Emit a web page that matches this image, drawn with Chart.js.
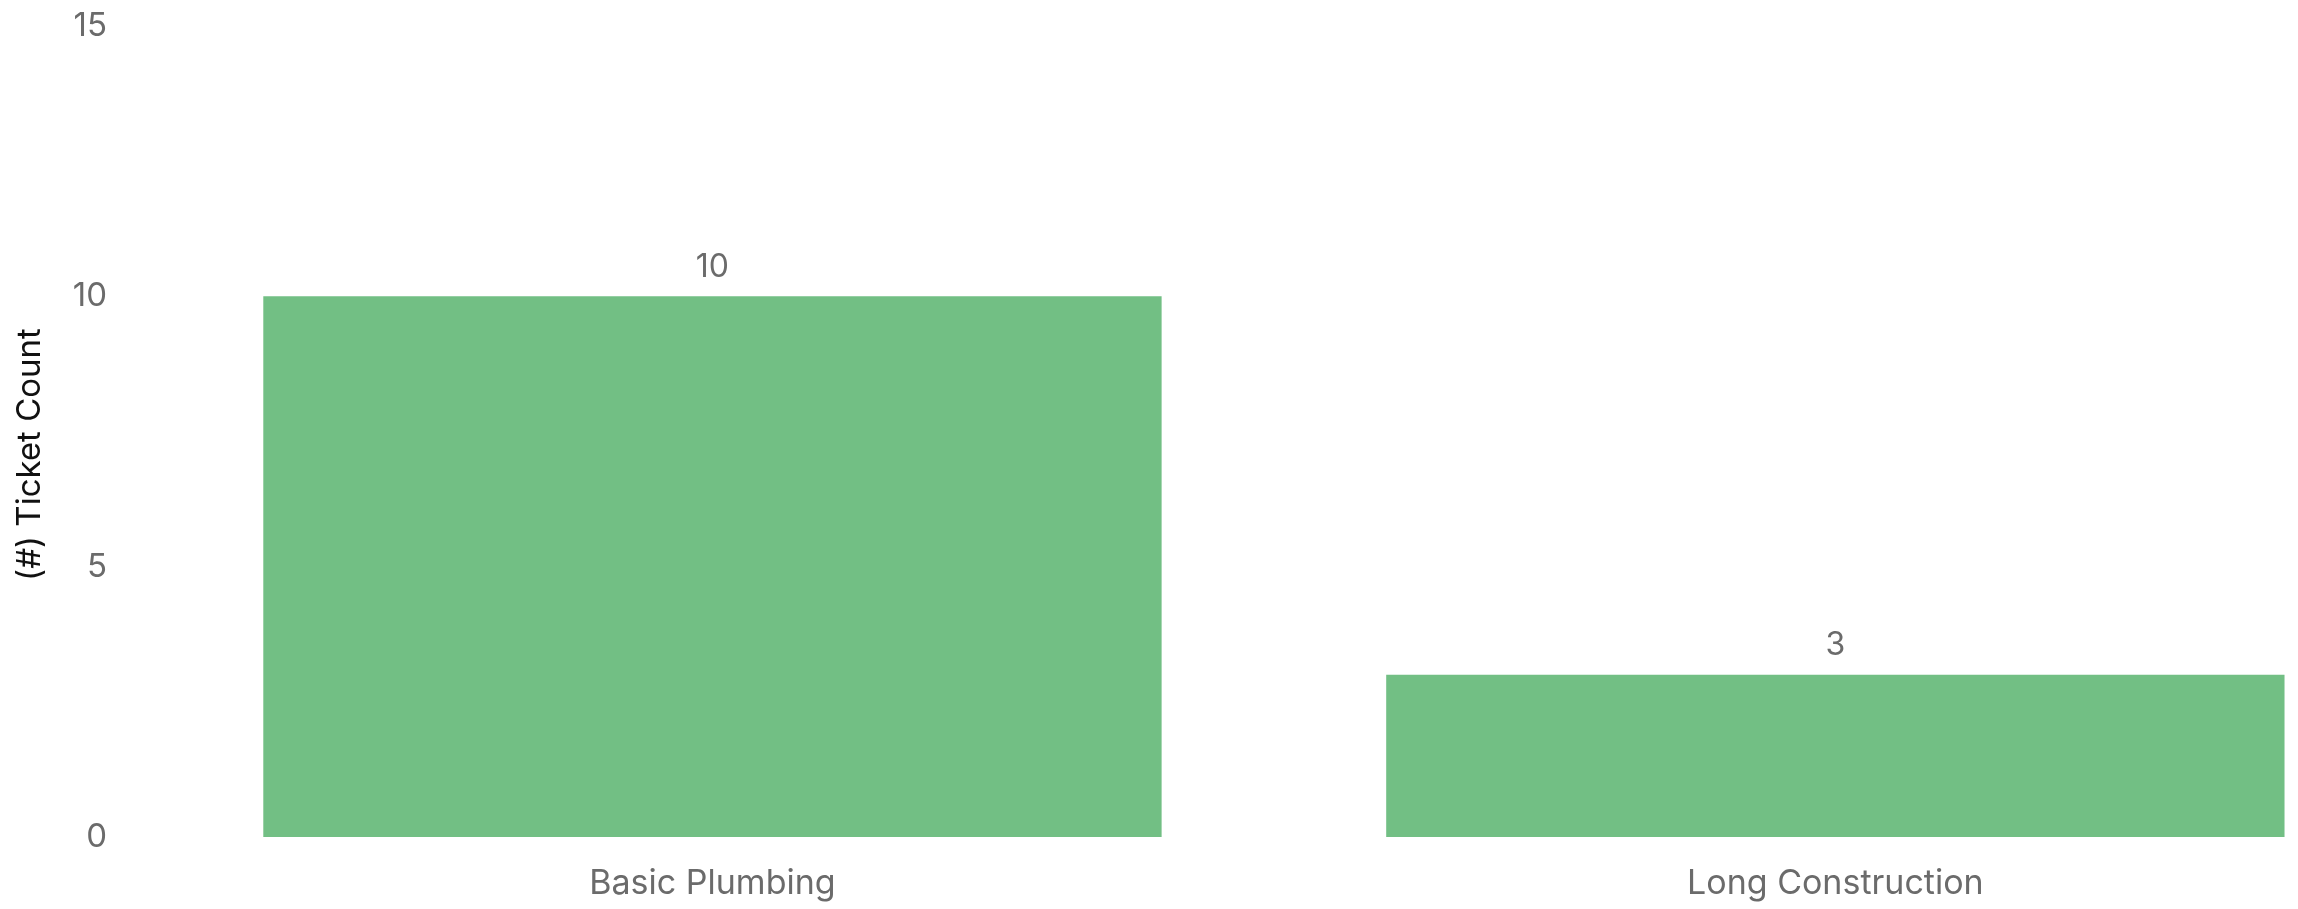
<!DOCTYPE html>
<html>
<head>
<meta charset="utf-8">
<script src="https://cdn.jsdelivr.net/npm/chart.js@4"></script>
<style>
  html, body { margin: 0; padding: 0; background: #fff; }
  #wrap { width: 2298px; height: 909px; position: relative; }
</style>
</head>
<body>
<div id="wrap"><canvas id="ticketChart"></canvas></div>
<script>
(() => {
  const CATEGORIES = ["Basic Plumbing", "Long Construction"];
  const TICKET_COUNTS = [10, 3];
  const Y_TICKS = [0, 5, 10, 15];
  const Y_TITLE = "(#) Ticket Count";

  const BAR_COLOR = "#72bf84";
  const TICK_COLOR = "#6b6b6b";
  const FONT = "Inter, 'Noto Sans', sans-serif";

  /* ---------- PLUGINS ---------- */

  // value labels above each bar
  const valueLabels = {
    id: "valueLabels",
    afterDatasetsDraw(chart) {
      const { ctx } = chart;
      const meta = chart.getDatasetMeta(0);
      ctx.save();
      ctx.font = `32px ${FONT}`;
      ctx.fillStyle = TICK_COLOR;
      ctx.textAlign = "center";
      ctx.textBaseline = "middle";
      meta.data.forEach((bar, i) => {
        ctx.fillText(String(TICKET_COUNTS[i]), bar.x, bar.y - 29);
      });
      ctx.restore();
    }
  };

  // y title, centred on the whole canvas height
  const yTitle = {
    id: "yTitle",
    afterDraw(chart) {
      const { ctx } = chart;
      ctx.save();
      ctx.translate(30, chart.height / 2);
      ctx.rotate(-Math.PI / 2);
      ctx.font = `33px ${FONT}`;
      ctx.fillStyle = "#111";
      ctx.textAlign = "center";
      ctx.textBaseline = "middle";
      ctx.fillText(Y_TITLE, 0, 0);
      ctx.restore();
    }
  };

  /* ---------- CHART ---------- */

  function createChart() {
    const ctx = document.getElementById("ticketChart");

    new Chart(ctx, {
      type: "bar",
      data: {
        datasets: [{
          data: TICKET_COUNTS.map((v, i) => ({ x: i, y: v })),
          backgroundColor: BAR_COLOR,
          borderWidth: 0,
          categoryPercentage: 0.8,
          barPercentage: 1
        }]
      },
      options: {
        responsive: true,
        maintainAspectRatio: false,
        animation: false,
        layout: { padding: { top: 0, right: 0, bottom: 5, left: 0 } },
        plugins: {
          legend: { display: false },
          tooltip: { enabled: false }
        },
        scales: {
          x: {
            type: "linear",
            offset: false,
            min: -0.5,
            max: 1.412,
            grid: { display: false, drawTicks: false },
            border: { display: false },
            afterBuildTicks: axis => {
              axis.ticks = CATEGORIES.map((c, i) => ({ value: i }));
            },
            afterFit: axis => { axis.height = 67; },
            ticks: {
              color: TICK_COLOR,
              font: { family: FONT, size: 34 },
              padding: 26,
              maxRotation: 0,
              callback: v => CATEGORIES[v] ?? ""
            }
          },
          y: {
            min: 0,
            max: 15,
            grid: { display: false, drawTicks: true, tickLength: 38 },
            border: { display: false },
            afterBuildTicks: axis => {
              axis.ticks = Y_TICKS.map(v => ({ value: v }));
            },
            afterFit: axis => { axis.width = 151; },
            ticks: {
              color: TICK_COLOR,
              font: { family: FONT, size: 33 },
              padding: 6
            }
          }
        }
      },
      plugins: [valueLabels, yTitle]
    });
  }

  if (document.readyState === "loading") {
    document.addEventListener("DOMContentLoaded", createChart);
  } else {
    createChart();
  }
})();
</script>
</body>
</html>
